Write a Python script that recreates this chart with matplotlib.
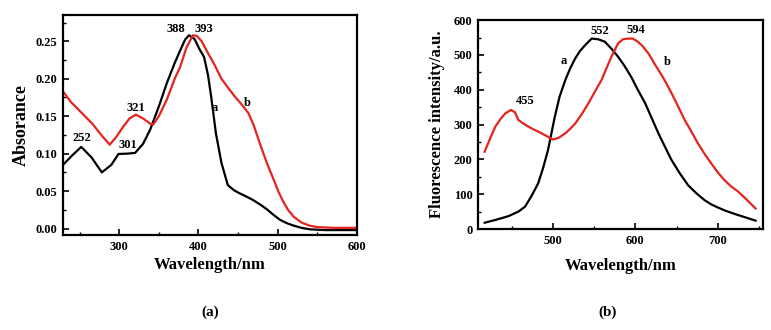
import matplotlib
matplotlib.use("Agg")
import matplotlib.pyplot as plt
from matplotlib.ticker import MultipleLocator

plt.rcParams['font.family'] = ['Liberation Serif', 'DejaVu Serif']
plt.rcParams['font.weight'] = 'bold'

# Panel (a): absorbance
abs_a_wl = [229, 240, 252, 265, 278, 290, 299, 310, 320, 330, 339, 350, 360, 370, 377, 383, 388,
            395, 401, 407, 412, 416, 422, 429, 437, 445, 452, 460, 469, 478, 486, 495, 503, 512,
            520, 530, 541, 560, 580, 600]
abs_a_val = [0.085, 0.097, 0.109, 0.095, 0.075, 0.085, 0.0996, 0.100, 0.101, 0.113, 0.132, 0.163,
             0.194, 0.221, 0.238, 0.252, 0.258, 0.253, 0.240, 0.229, 0.205, 0.176, 0.127, 0.0876,
             0.058, 0.051, 0.047, 0.043, 0.038, 0.032, 0.026, 0.018, 0.0116, 0.007, 0.004, 0.001,
             -0.001, -0.002, -0.002, -0.002]

abs_b_wl = [229, 239, 252, 266, 278, 288, 296, 305, 313, 321, 330, 339, 343, 350, 360, 370, 377,
            385, 393, 398, 404, 410, 420, 429, 438, 446, 455, 463, 470, 476, 482, 488, 495, 501,
            507, 513, 520, 530, 540, 550, 570, 600]
abs_b_val = [0.183, 0.169, 0.155, 0.140, 0.124, 0.112, 0.122, 0.136, 0.147, 0.152, 0.147, 0.140,
             0.139, 0.150, 0.172, 0.200, 0.216, 0.242, 0.258, 0.257, 0.250, 0.238, 0.219, 0.200,
             0.187, 0.176, 0.165, 0.154, 0.137, 0.118, 0.100, 0.083, 0.065, 0.049, 0.036, 0.025,
             0.016, 0.008, 0.004, 0.002, 0.001, 0.001]

abs_labels = [("252", 253, 0.121), ("301", 311, 0.112), ("321", 321, 0.161),
              ("388", 371, 0.266), ("393", 407, 0.266), ("a", 421, 0.161), ("b", 461, 0.167)]

# Panel (b): fluorescence
fl_a_wl = [417, 430, 446, 458, 466, 474, 482, 488, 494, 502, 508, 515, 521, 527, 533, 539, 547,
           555, 563, 571, 579, 587, 595, 603, 612, 620, 628, 636, 644, 654, 664, 674, 684, 692,
           700, 710, 721, 733, 746]
fl_a_val = [18, 26, 37, 50, 64, 95, 131, 175, 227, 320, 380, 428, 462, 490, 512, 528, 547, 545,
            538, 518, 495, 468, 437, 400, 361, 318, 275, 236, 198, 160, 126, 103, 83, 71, 62, 52,
            43, 34, 24]

fl_b_wl = [417, 424, 430, 436, 442, 449, 454, 458, 466, 474, 482, 490, 500, 507, 515, 521, 527,
           535, 543, 551, 559, 565, 571, 579, 585, 591, 597, 603, 609, 616, 624, 632, 638, 644,
           652, 660, 668, 676, 684, 692, 700, 708, 716, 725, 735, 746]
fl_b_val = [222, 262, 294, 315, 332, 342, 335, 313, 300, 289, 280, 270, 257, 262, 275, 288, 303,
            330, 361, 395, 428, 462, 495, 533, 545, 547, 547, 538, 525, 504, 472, 442, 417, 390,
            352, 313, 280, 246, 216, 189, 163, 141, 123, 107, 85, 59]

fl_labels = [("455", 466, 367), ("a", 513, 482), ("552", 557, 568), ("594", 601, 571),
             ("b", 639, 479)]

red = '#e3241f'

fig = plt.figure(figsize=(7.71, 3.30), dpi=100)
ax1 = fig.add_axes([0.0817, 0.288, 0.3813, 0.6665])
ax2 = fig.add_axes([0.620, 0.306, 0.3696, 0.633])

ax1.plot(abs_a_wl, abs_a_val, color='black', lw=1.6)
ax1.plot(abs_b_wl, abs_b_val, color=red, lw=1.6)
ax1.set_xlim(229, 600)
ax1.set_ylim(-0.0085, 0.285)
ax1.xaxis.set_major_locator(MultipleLocator(100))
ax1.xaxis.set_minor_locator(MultipleLocator(50))
ax1.yaxis.set_major_locator(MultipleLocator(0.05))
ax1.yaxis.set_minor_locator(MultipleLocator(0.025))
ax1.yaxis.set_major_formatter(plt.FormatStrFormatter('%.2f'))
ax1.set_xlabel('Wavelength/nm', fontsize=12, fontweight='bold', labelpad=3)
ax1.set_ylabel('Absorance', fontsize=13, fontweight='bold', labelpad=4)
for t, x, y in abs_labels:
    ax1.text(x, y, t, fontsize=9, fontweight='bold', ha='center', va='center')

ax2.plot(fl_a_wl, fl_a_val, color='black', lw=1.6)
ax2.plot(fl_b_wl, fl_b_val, color=red, lw=1.6)
ax2.set_xlim(409, 755)
ax2.set_ylim(0, 600)
ax2.xaxis.set_major_locator(MultipleLocator(100))
ax2.xaxis.set_minor_locator(MultipleLocator(50))
ax2.yaxis.set_major_locator(MultipleLocator(100))
ax2.yaxis.set_minor_locator(MultipleLocator(50))
ax2.set_xlabel('Wavelength/nm', fontsize=12, fontweight='bold', labelpad=8)
ax2.set_ylabel('Fluorescence intensity/a.u.', fontsize=12, fontweight='bold', labelpad=6)
for t, x, y in fl_labels:
    ax2.text(x, y, t, fontsize=9, fontweight='bold', ha='center', va='center')

for ax in (ax1, ax2):
    for s in ax.spines.values():
        s.set_linewidth(1.6)
    ax.tick_params(which='major', direction='in', length=4, width=1.2, labelsize=9, pad=4)
    ax.tick_params(which='minor', direction='in', length=2.5, width=1.0)
    for lab in ax.get_xticklabels() + ax.get_yticklabels():
        lab.set_fontweight('bold')

fig.text(0.2724, 0.055, '(a)', fontsize=11, fontweight='bold', ha='center', va='center')
fig.text(0.7886, 0.055, '(b)', fontsize=11, fontweight='bold', ha='center', va='center')

fig.savefig('out.png', dpi=100)
